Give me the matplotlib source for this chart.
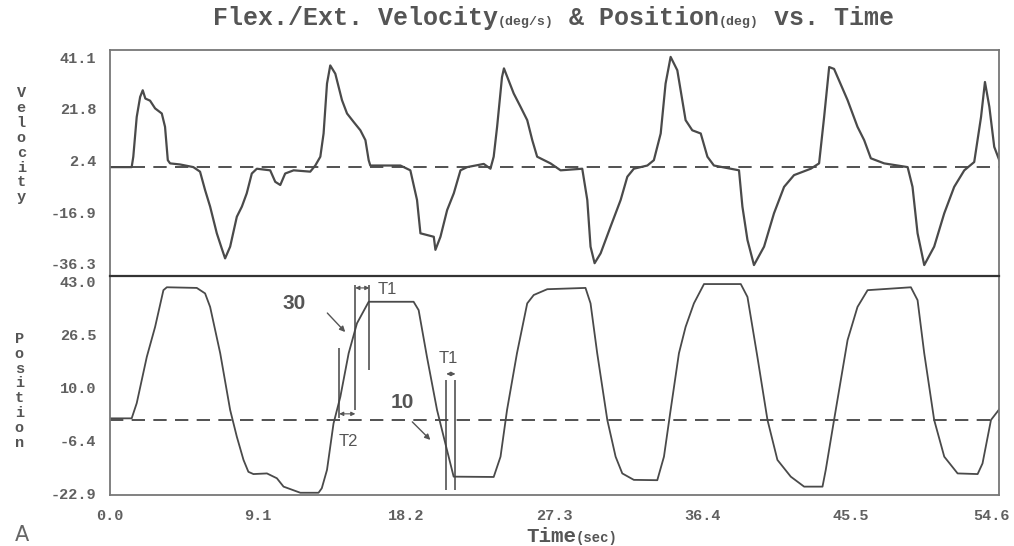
import matplotlib.pyplot as plt
from matplotlib.offsetbox import TextArea, HPacker, AnchoredOffsetbox
from matplotlib.transforms import ScaledTranslation

# flexion/extension velocity (deg/s)
vel_t = [0.0, 1.33, 1.43, 1.64, 1.85, 2.01, 2.17, 2.46, 2.77, 3.18, 3.38, 3.55, 3.69, 4.3,
         5.12, 5.53, 5.84, 6.15, 6.56, 6.86, 7.07, 7.38, 7.79, 8.1, 8.4, 8.71, 9.02, 9.84,
         10.15, 10.46, 10.76, 11.28, 12.3, 12.61, 12.92, 13.12, 13.33, 13.53, 13.84, 14.25,
         14.56, 14.97, 15.38, 15.69, 15.89, 15.99, 17.84, 18.45, 18.86, 19.07, 19.89, 19.99,
         20.3, 20.71, 21.12, 21.53, 21.94, 22.96, 23.37, 23.57, 23.78, 24.08, 24.2, 24.8,
         25.22, 25.63, 25.94, 26.24, 27.06, 27.68, 29.01, 29.32, 29.52, 29.77, 30.14, 30.75,
         31.37, 31.78, 32.18, 33.01, 33.41, 33.83, 34.13, 34.44, 34.85, 35.36, 35.77, 36.29,
         36.7, 37.1, 38.64, 38.85, 39.16, 39.56, 40.18, 40.79, 41.41, 42.02, 43.05, 43.56,
         43.87, 44.18, 44.48, 45.31, 45.92, 46.33, 46.74, 47.56, 49.0, 49.3, 49.61, 50.02,
         50.63, 51.25, 51.86, 52.48, 53.09, 53.51, 53.75, 54.02, 54.32, 54.63]
vel_v = [0, 0, 3.9, 18.8, 26.3, 28.8, 25.7, 24.9, 22.0, 20.1, 15.1, 2.6, 1.4, 1.0,
         0, -1.7, -8.6, -14.8, -24.8, -30.4, -34.2, -29.8, -18.6, -14.8, -9.8, -2.4, -0.6, -1.2,
         -5.5, -6.7, -2.4, -1.2, -1.7, 0.6, 3.9, 12.6, 31.3, 38.1, 35.0, 25.1,
         20.1, 16.9, 13.8, 10.1, 2.6, 0.6, 0.6, -1.2, -12.3, -24.8, -26.1, -31.0,
         -26.1, -16.1, -9.8, -1.2, 0, 1.2, -0.6, 3.9, 15.1, 33.7, 37.0, 27.6,
         22.6, 17.6, 10.1, 3.9, 1.4, -1.2, -0.6, -12.3, -29.8, -36.0, -32.3, -22.3,
         -12.3, -3.6, -0.6, 0.6, 2.6, 12.6, 31.3, 41.3, 36.3, 17.6, 13.8, 12.6,
         3.9, 0.6, -1.2, -14.8, -27.3, -36.7, -29.8, -17.3, -7.4, -3.0, -0.6, 1.4,
         18.8, 37.5, 36.8, 25.1, 15.1, 10.1, 3.3, 1.4, 0, -7.4, -24.8, -36.7,
         -29.8, -17.3, -7.4, -1.2, 1.9, 18.8, 31.9, 22.6, 7.6, 2.6]

# joint position (deg)
pos_t = [0.0, 1.33, 1.64, 2.26, 2.77, 3.28, 3.49, 5.33, 5.84, 6.15, 6.77, 7.38, 7.79, 8.2,
         8.5, 8.81, 9.64, 10.25, 10.66, 11.69, 12.81, 13.01, 13.33, 13.73, 14.15, 14.66,
         15.17, 15.89, 18.65, 18.96, 19.47, 20.09, 20.6, 21.11, 23.57, 23.99, 24.39, 25.0,
         25.63, 26.03, 26.86, 29.21, 29.52, 29.93, 30.55, 31.06, 31.47, 32.18, 33.62, 34.03,
         34.44, 34.95, 35.36, 35.87, 36.49, 38.75, 39.16, 39.77, 40.39, 41.0, 41.82, 42.64,
         43.77, 43.97, 44.48, 45.31, 45.92, 46.54, 49.2, 49.61, 50.02, 50.63, 51.25, 52.07,
         53.3, 53.6, 54.12, 54.67]
pos_v = [0.5, 0.5, 5.2, 19.6, 28.9, 40.3, 41.2, 41.0, 39.3, 35.1, 20.7, 3.1, -5.2, -12.4,
         -16.1, -16.8, -16.6, -18.1, -20.7, -22.6, -22.6, -21.2, -15.5, -1.1, 7.2, 20.7,
         30.0, 36.7, 36.7, 34.1, 19.6, 3.1, -7.3, -17.6, -17.7, -11.4, 3.1, 20.7,
         36.2, 38.8, 40.6, 41.0, 36.2, 20.7, 0.0, -11.4, -16.6, -18.6, -18.7, -11.4,
         3.1, 20.7, 28.9, 36.2, 42.2, 42.2, 38.2, 19.6, 0.0, -12.4, -17.6, -20.7,
         -20.7, -15.5, 0.0, 24.8, 35.1, 40.3, 41.2, 37.2, 20.7, 0.0, -11.4, -16.6,
         -16.8, -13.5, 0.0, 3.6]

x_ticks = [0.0, 9.1, 18.2, 27.3, 36.4, 45.5, 54.6]
vel_ticks = [41.1, 21.8, 2.4, -16.9, -36.3]
pos_ticks = [43.0, 26.5, 10.0, -6.4, -22.9]

# hand-drawn timing marks on the position panel
mark_x = [14.08, 15.07, 15.93, 20.66, 21.22]
mark_top = [22.3, 41.9, 41.9, 12.4, 12.4]
mark_bot = [0.6, 3.1, 15.5, -21.7, -21.7]
span_x0 = [15.07, 14.08, 20.66]
span_x1 = [15.93, 15.07, 21.22]
span_y = [41.0, 1.9, 14.3]
span_txt = ["T1", "T2", "T1"]
span_txt_x = [17.04, 14.64, 20.79]
span_txt_y = [40.4, -6.8, 19.2]
pct_txt = ["30", "10"]
pct_xy = [(11.32, 36.3), (17.96, 5.3)]
pct_from = [(13.35, 33.2), (18.57, -0.6)]
pct_to = [(14.45, 27.3), (19.68, -6.2)]

grey = "#555555"
plt.rcParams["font.family"] = ["Liberation Mono", "DejaVu Sans Mono"]
plt.rcParams["font.weight"] = "bold"

fig = plt.figure(figsize=(10.14, 5.46), dpi=100)
ax_v = fig.add_axes([0.1085, 0.4945, 0.8765, 0.4135])
ax_p = fig.add_axes([0.1085, 0.0934, 0.8765, 0.4011])

for ax in (ax_v, ax_p):
    ax.set_xlim(0, 54.6)
    ax.axhline(0, color="#333333", lw=1.2, ls=(0, (8, 5)), zorder=1)
    for s in ax.spines.values():
        s.set_color("#777777")
        s.set_linewidth(1.3)
    ax.tick_params(length=0, pad=10, labelsize=11, labelcolor="#606060")

ax_v.plot(vel_t, vel_v, color="#4a4a4a", lw=1.6, zorder=2)
ax_v.set_ylim(-40.8, 43.8)
ax_v.set_yticks(vel_ticks)
ax_v.set_yticklabels([f"{v:.1f}" for v in vel_ticks])
ax_v.set_xticks([])
ax_v.spines["bottom"].set_visible(False)

ax_p.plot(pos_t, pos_v, color="#4a4a4a", lw=1.3, zorder=2)
ax_p.set_ylim(-23.3, 44.7)
ax_p.set_yticks(pos_ticks)
ax_p.set_yticklabels([f"{v:.1f}" for v in pos_ticks])
ax_p.set_xticks(x_ticks)
ax_p.set_xticklabels([f"{v:.1f}" for v in x_ticks])
ax_p.spines["top"].set_color("#333333")
ax_p.spines["top"].set_linewidth(1.6)
# last tick label sits against the right edge; nudge it so it stays inside
last = ax_p.get_xticklabels()[-1]
last.set_transform(last.get_transform() + ScaledTranslation(-5 / 72, 0, fig.dpi_scale_trans))

# timing annotations
ax_p.vlines(mark_x, mark_bot, mark_top, color="#444444", lw=1.1)
for x0, x1, y in zip(span_x0, span_x1, span_y):
    ax_p.annotate("", xy=(x1, y), xytext=(x0, y),
                  arrowprops=dict(arrowstyle="<|-|>", color="#555555", lw=0.8,
                                  mutation_scale=6, shrinkA=0, shrinkB=0))
for s, x, y in zip(span_txt, span_txt_x, span_txt_y):
    ax_p.text(x, y, s, ha="center", va="center", fontsize=12, color=grey,
              family="Liberation Sans", fontweight="normal")
for s, xy, a, b in zip(pct_txt, pct_xy, pct_from, pct_to):
    ax_p.text(xy[0], xy[1], s, ha="center", va="center", fontsize=15, color=grey,
              family="Liberation Sans", fontweight="bold")
    ax_p.annotate("", xy=b, xytext=a,
                  arrowprops=dict(arrowstyle="-|>", color="#555555", lw=1.0,
                                  mutation_scale=8, shrinkA=0, shrinkB=0))

# stacked axis labels
fig.text(0.021, 0.734, "\n".join("Velocity"), ha="center", va="center",
         fontsize=11, color=grey, linespacing=1.08)
fig.text(0.019, 0.284, "\n".join("Position"), ha="center", va="center",
         fontsize=11, color=grey, linespacing=1.08)


def mixed_text(parts, xy, big_size=18, small_size=9.5):
    big = dict(size=big_size, weight="bold", color=grey)
    small = dict(size=small_size, weight="bold", color=grey)
    kids = [TextArea(s, textprops=big if b else small) for s, b in parts]
    box = HPacker(children=kids, align="baseline", pad=0, sep=0)
    fig.add_artist(AnchoredOffsetbox(loc="center", child=box, bbox_to_anchor=xy,
                                     bbox_transform=fig.transFigure, frameon=False,
                                     pad=0, borderpad=0))


mixed_text([("Flex./Ext. Velocity", True), ("(deg/s)", False), (" & Position", True),
            ("(deg)", False), (" vs. Time", True)], (0.546, 0.967))
mixed_text([("Time", True), ("(sec)", False)], (0.564, 0.0165), 15, 10)

fig.text(0.0217, 0.02, "A", fontsize=15, family="DejaVu Sans", fontweight="normal",
         color="#666666", ha="center", va="center")

fig.savefig("out.png", dpi=100)
